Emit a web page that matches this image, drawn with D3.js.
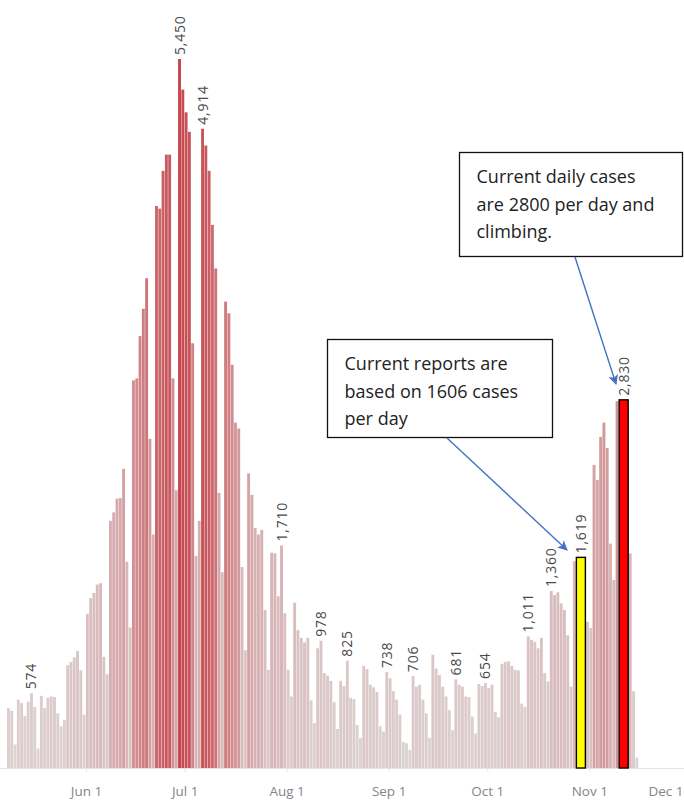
<!DOCTYPE html>
<html>
<head>
<meta charset="utf-8">
<script src="https://cdn.jsdelivr.net/npm/d3@7"></script>
<style>
  html, body { margin: 0; padding: 0; background: #fff; }
  svg { display: block; }
  .xAxis text { font-family: "Open Sans", sans-serif; font-size: 13.5px; fill: #858585; }
  .xAxis line, .xAxis path { stroke: #e4e4e4; }
  .barLabel { font-family: "Open Sans", sans-serif; font-size: 14px; letter-spacing: 0.8px; fill: #4a4a4a; }
  .note text { font-family: "Open Sans", sans-serif; font-size: 18px; fill: #222; }
</style>
</head>
<body>
<div id="chart"></div>
<script>
// daily cases, one value per day starting 2020-05-08
var startDate = "2020-05-08";
var cases = [
  460, 440, 180, 525, 500, 400, 510, 574, 470, 150,
  555, 460, 540, 550, 545, 420, 320, 370, 790, 815,
  850, 900, 750, 410, 1185, 1305, 1345, 1410, 1420, 855,
  720, 1900, 1965, 2070, 2075, 2300, 1585, 1080, 2980, 2995,
  3320, 3530, 3765, 2530, 1795, 4320, 4300, 4590, 4715, 4715,
  2995, 2135, 5450, 5215, 5040, 4890, 3265, 1630, 1900, 4914,
  4785, 4590, 4175, 3840, 2115, 1505, 3585, 3495, 3100, 2655,
  2610, 1545, 905, 2265, 2100, 1845, 1795, 1830, 1215, 755,
  1655, 1650, 1320, 1710, 1190, 755, 550, 1270, 1060, 1000,
  965, 1000, 520, 345, 920, 978, 730, 710, 670, 505,
  300, 670, 630, 825, 540, 530, 330, 230, 785, 760,
  640, 620, 585, 320, 280, 738, 690, 590, 525, 410,
  200, 190, 140, 706, 625, 640, 525, 420, 230, 870,
  765, 715, 625, 550, 445, 290, 681, 640, 625, 550,
  545, 395, 265, 645, 630, 654, 615, 640, 430, 390,
  800, 815, 820, 785, 755, 750, 495, 470, 1011, 985,
  970, 920, 1000, 730, 665, 1360, 1330, 1350, 1265, 1215,
  1020, 625, 1590, 1600, 1619, 1200, 1125, 1075, 2330, 2215,
  2545, 2655, 2460, 1725, 1445, 2820, 2800, 2830, 2600, 1650,
  590, 80
];
var tickDates = ["2020-06-01", "2020-07-01", "2020-08-01", "2020-09-01", "2020-10-01", "2020-11-01", "2020-12-01"];
var labelDates = ["2020-05-15", "2020-06-29", "2020-07-06", "2020-07-30", "2020-08-11", "2020-08-19",
  "2020-08-31", "2020-09-08", "2020-09-21", "2020-09-30", "2020-10-13", "2020-10-20"];
var yellowDates = ["2020-10-29"];
var redDates = ["2020-11-11"];
var noteDaily = ["Current daily cases", "are 2800 per day and", "climbing."];
var noteReports = ["Current reports are", "based on 1606 cases", "per day"];

var width = 684, height = 804;
var parse = d3.utcParse("%Y-%m-%d");
var start = parse(startDate);

var data = cases.map(function(v, i) { return { date: d3.utcDay.offset(start, i), value: v }; });
var byKey = {};
data.forEach(function(d) { byKey[+d.date] = d; });
function pick(list) { return list.map(function(s) { return byKey[+parse(s)]; }); }

var svg = d3.select("#chart").append("svg")
    .attr("width", width)
    .attr("height", height);

var x = d3.scaleUtc()
    .domain([start, parse("2020-12-01")])
    .range([7, 688]);
var step = x(d3.utcDay.offset(start, 1)) - x(start);
var bw = step - 0.4;

var y = d3.scaleLinear()
    .domain([0, 5450])
    .range([768, 59]);

var color = d3.scaleLinear()
    .domain([0, 1500, 5450])
    .range(["#ddd6d6", "#d9babb", "#c5444b"]);

// axis
var axis = svg.append("g")
    .attr("class", "xAxis")
    .attr("transform", "translate(0,768)")
    .call(d3.axisBottom(x)
        .tickValues(tickDates.map(parse))
        .tickFormat(d3.utcFormat("%b %-d"))
        .tickSize(4)
        .tickPadding(14));
axis.select(".domain").attr("d", "M0,0.5H" + width);
axis.selectAll(".tick text").filter(function(d, i, n) { return i === n.length - 1; })
    .attr("text-anchor", "end")
    .attr("x", -5);

// bars
svg.append("g").selectAll("rect")
    .data(data)
    .enter().append("rect")
    .attr("x", function(d) { return x(d.date); })
    .attr("width", bw)
    .attr("y", function(d) { return y(d.value); })
    .attr("height", function(d) { return y(0) - y(d.value); })
    .attr("fill", function(d) { return color(d.value); });

// highlighted days
function highlight(list, fill) {
    svg.append("g").selectAll("rect")
        .data(pick(list))
        .enter().append("rect")
        .attr("x", function(d) { return x(d.date) + bw / 2 - 4.5; })
        .attr("width", 9)
        .attr("y", function(d) { return y(d.value); })
        .attr("height", function(d) { return y(0) - y(d.value); })
        .attr("fill", fill)
        .attr("stroke", "#000")
        .attr("stroke-width", 1.4);
}
highlight(yellowDates, "#ffff00");
highlight(redDates, "#ff0000");

// value labels
var fmt = d3.format(",");
svg.append("g").selectAll("text")
    .data(pick(labelDates.concat(yellowDates, redDates)))
    .enter().append("text")
    .attr("class", "barLabel")
    .attr("transform", function(d) {
        return "translate(" + (x(d.date) + bw / 2 + 5) + "," + (y(d.value) - 4) + ") rotate(-90)";
    })
    .text(function(d) { return fmt(d.value); });

// notes
function note(lines, bx, by, bwid, bht) {
    var g = svg.append("g").attr("class", "note");
    g.append("rect")
        .attr("x", bx).attr("y", by)
        .attr("width", bwid).attr("height", bht)
        .attr("fill", "#fff")
        .attr("stroke", "#111")
        .attr("stroke-width", 1.3);
    g.selectAll("text")
        .data(lines)
        .enter().append("text")
        .attr("x", bx + 17)
        .attr("y", function(d, i) { return by + 30.5 + i * 27.5; })
        .text(function(d) { return d; });
}
note(noteDaily, 459.5, 152.5, 223, 104);
note(noteReports, 327.5, 339.5, 225, 98);

// arrows
var defs = svg.append("defs");
defs.append("marker")
    .attr("id", "head")
    .attr("viewBox", "0 0 10 10")
    .attr("refX", 9).attr("refY", 5)
    .attr("markerWidth", 13).attr("markerHeight", 10)
    .attr("markerUnits", "userSpaceOnUse")
    .attr("orient", "auto")
    .append("path")
    .attr("d", "M0,0L10,5L0,10L2.5,5z")
    .attr("fill", "#4472c4");

var arrows = [[575, 257, 616, 384], [447, 438, 567, 550]];
svg.append("g").selectAll("line")
    .data(arrows)
    .enter().append("line")
    .attr("x1", function(d) { return d[0]; })
    .attr("y1", function(d) { return d[1]; })
    .attr("x2", function(d) { return d[2]; })
    .attr("y2", function(d) { return d[3]; })
    .attr("stroke", "#4472c4")
    .attr("stroke-width", 1.4)
    .attr("marker-end", "url(#head)");
</script>
</body>
</html>
